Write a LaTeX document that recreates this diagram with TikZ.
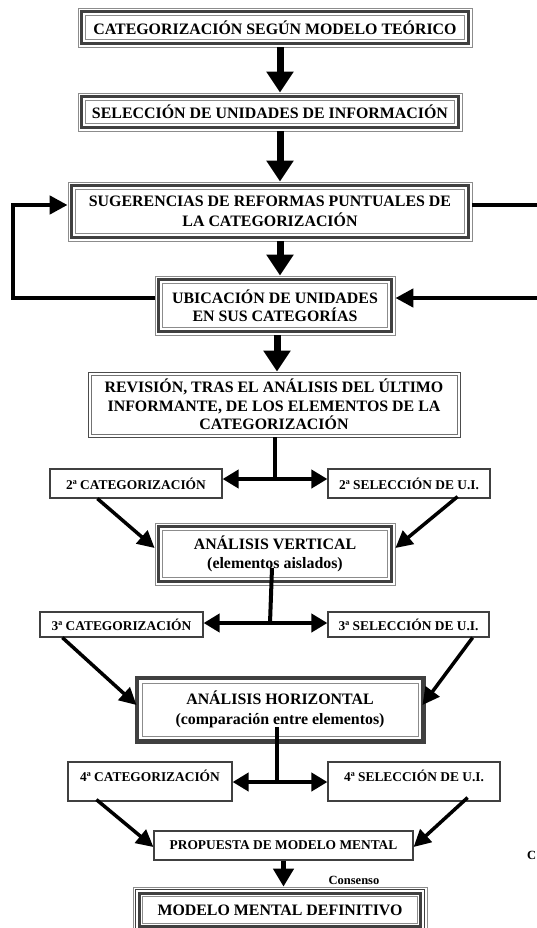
\documentclass[tikz,border=0pt]{standalone}
\usepackage{fontspec}
\setmainfont{Liberation Serif}
\usetikzlibrary{arrows.meta}
\newcommand\fbig{\fontsize{15.9}{19.5}\selectfont\bfseries}
\newcommand\fsmall{\fontsize{13.4}{16}\selectfont\bfseries}
\newcommand\fcons{\fontsize{12.5}{15}\selectfont\bfseries}
\tikzset{
  base/.style={inner sep=0pt, align=center, fill=white},
  tribox/.style={base, font=\fbig, draw=black!45, line width=0.8pt,
    path picture={
      \draw[black!75, line width=3.2pt] ([shift={(3.6pt,-3.6pt)}]path picture bounding box.north west) rectangle ([shift={(-3.6pt,3.6pt)}]path picture bounding box.south east);
      \draw[black!45, line width=0.8pt] ([shift={(7.6pt,-7.6pt)}]path picture bounding box.north west) rectangle ([shift={(-7.6pt,7.6pt)}]path picture bounding box.south east);
    }},
  hbox/.style={base, font=\fbig, draw=black!75, line width=1pt,
    path picture={
      \draw[black!75, line width=4.4pt] ([shift={(2.2pt,-2.2pt)}]path picture bounding box.north west) rectangle ([shift={(-2.2pt,2.2pt)}]path picture bounding box.south east);
      \draw[black!45, line width=0.8pt] ([shift={(7pt,-7pt)}]path picture bounding box.north west) rectangle ([shift={(-7pt,7pt)}]path picture bounding box.south east);
    }},
  mbox/.style={base, font=\fbig, draw=black!45, line width=0.8pt,
    path picture={
      \draw[black!75, line width=1.2pt] ([shift={(2.8pt,-2.8pt)}]path picture bounding box.north west) rectangle ([shift={(-2.8pt,2.8pt)}]path picture bounding box.south east);
      \draw[black!75, line width=2.4pt] ([shift={(6.4pt,-6.4pt)}]path picture bounding box.north west) rectangle ([shift={(-6.4pt,6.4pt)}]path picture bounding box.south east);
      \draw[black!45, line width=0.8pt] ([shift={(9.6pt,-9.6pt)}]path picture bounding box.north west) rectangle ([shift={(-9.6pt,9.6pt)}]path picture bounding box.south east);
    }},
  dbox/.style={base, font=\fbig, draw=black!70, line width=0.8pt,
    path picture={
      \draw[black!55, line width=0.8pt] ([shift={(3pt,-3pt)}]path picture bounding box.north west) rectangle ([shift={(-3pt,3pt)}]path picture bounding box.south east);
    }},
  sbox/.style={base, font=\fsmall, draw=black!75, line width=1.2pt},
  bigarrow/.style={line width=7pt, -{Triangle[length=21pt,width=26pt]}},
  finarrow/.style={line width=5.5pt, -{Triangle[length=18pt,width=20pt]}},
  loopline/.style={line width=4.5pt},
  looparrow/.style={line width=4.5pt, -{Triangle[length=18pt,width=18pt]}},
  stem/.style={line width=4pt},
  splitarrow/.style={line width=4pt, -{Triangle[length=16pt,width=18pt]}},
  diagarrow/.style={line width=3.5pt, -{Triangle[length=17pt,width=17pt]}},
}
\begin{document}
\begin{tikzpicture}[x=1pt, y=-1pt]
\useasboundingbox (0,0) rectangle (537,928);

% boxes
\node[tribox, minimum width=394pt, minimum height=39pt] (b1) at (275,27.5) {CATEGORIZACIÓN SEGÚN MODELO TEÓRICO};
\node[tribox, minimum width=384pt, minimum height=38pt] (b2) at (270,112) {SELECCIÓN DE UNIDADES DE INFORMACIÓN};
\node[tribox, minimum width=404pt, minimum height=59pt] (b3) at (270,211.5) {SUGERENCIAS DE REFORMAS PUNTUALES DE\\LA CATEGORIZACIÓN};
\node[tribox, minimum width=240pt, minimum height=59pt] (b4) at (275,305.5) {UBICACIÓN DE UNIDADES\\[-1.5pt]EN SUS CATEGORÍAS};
\node[dbox, minimum width=372pt, minimum height=65pt] (b5) at (274,404.5) {REVISIÓN, TRAS EL ANÁLISIS DEL ÚLTIMO\\[-1pt]INFORMANTE, DE LOS ELEMENTOS DE LA\\[-1pt]CATEGORIZACIÓN};

\node[sbox, minimum width=172pt, minimum height=29pt] (s2l) at (136,483.5) {2ª CATEGORIZACIÓN};
\node[sbox, minimum width=162pt, minimum height=29pt] (s2r) at (409,483.5) {2ª SELECCIÓN DE U.I.};
\node[tribox, minimum width=240pt, minimum height=62pt] (av) at (275,554) {ANÁLISIS VERTICAL\\(elementos aislados)};

\node[sbox, minimum width=163pt, minimum height=25pt] (s3l) at (121.5,624.5) {3ª CATEGORIZACIÓN};
\node[sbox, minimum width=161pt, minimum height=25pt] (s3r) at (408.5,624.5) {3ª SELECCIÓN DE U.I.};
\node[hbox, minimum width=290pt, minimum height=67pt] (ah) at (280,709.5) {ANÁLISIS HORIZONTAL\\[1pt](comparación entre elementos)};

\node[sbox, minimum width=164pt, minimum height=39pt, text height=10pt, text depth=11pt] (s4l) at (150,781.5) {4ª CATEGORIZACIÓN};
\node[sbox, minimum width=172pt, minimum height=39pt, text height=10pt, text depth=11pt] (s4r) at (414,781.5) {4ª SELECCIÓN DE U.I.};
\node[sbox, minimum width=259pt, minimum height=29pt] (prop) at (283.5,845.5) {PROPUESTA DE MODELO MENTAL};
\node[mbox, minimum width=294pt, minimum height=46pt] (mm) at (280,910) {MODELO MENTAL DEFINITIVO};

\node[font=\fcons, inner sep=0pt] (cons) at (354,880) {Consenso};
\node[font=\fcons, inner sep=0pt, anchor=west] (cedge) at (527,855) {C};

% coordinates
\coordinate (lc) at (13,205);
\coordinate (rc1) at (545,205);
\coordinate (rc2) at (545,298);
\coordinate (j2) at (275,479);
\coordinate (j3) at (270,623);
\coordinate (j4) at (277,782);

% main vertical arrows
\draw[bigarrow] ([xshift=5pt]b1.south) -- ([xshift=10pt]b2.north);
\draw[bigarrow] ([xshift=10pt]b2.south) -- ([xshift=10pt]b3.north);
\draw[bigarrow] ([xshift=10pt]b3.south) -- ([xshift=5pt]b4.north);
\draw[bigarrow] ([xshift=2pt]b4.south) -- ([xshift=3pt]b5.north);

% loops
\draw[looparrow] ([yshift=7.5pt]b4.west) -| (lc) -- ([yshift=6.5pt]b3.west);
\draw[loopline] ([yshift=6.5pt]b3.east) -- (rc1);
\draw[looparrow] (rc2) -- ([yshift=7.5pt]b4.east);

% split 2
\draw[stem] ([xshift=1pt]b5.south) -- (j2);
\draw[splitarrow] ([xshift=2pt]j2) -- (j2 -| s2l.east);
\draw[splitarrow] ([xshift=-2pt]j2) -- (j2 -| s2r.west);
\draw[diagarrow] ([xshift=48pt]s2l.south west) -- ([yshift=6pt]av.west);
\draw[diagarrow] ([xshift=-33pt, yshift=2pt]s2r.south east) -- ([yshift=6pt]av.east);

% split 3
\draw[stem] ([shift={(-3,14)}]av.center) -- (j3);
\draw[splitarrow] ([xshift=2pt]j3) -- (j3 -| s3l.east);
\draw[splitarrow] ([xshift=-2pt]j3) -- (j3 -| s3r.west);
\draw[diagarrow] ([xshift=23pt]s3l.south west) -- ([shift={(2,-4.5)}]ah.west);
\draw[diagarrow] ([xshift=-17pt]s3r.south east) -- ([shift={(-3,-4.5)}]ah.east);

% split 4
\draw[stem, line width=3.5pt] ([shift={(-3,17.5)}]ah.center) -- (j4);
\draw[splitarrow] ([xshift=1.75pt]j4) -- (j4 -| s4l.east);
\draw[splitarrow] ([xshift=-1.75pt]j4) -- (j4 -| s4r.west);
\draw[diagarrow] ([xshift=29pt, yshift=2pt]s4l.south west) -- ([yshift=-1.5pt]prop.west);
\draw[diagarrow] ([xshift=-33pt, yshift=4pt]s4r.south east) -- ([yshift=-1.5pt]prop.east);

% final
\draw[finarrow] (prop.south) -- ([xshift=3.5pt]mm.north);
\end{tikzpicture}
\end{document}
